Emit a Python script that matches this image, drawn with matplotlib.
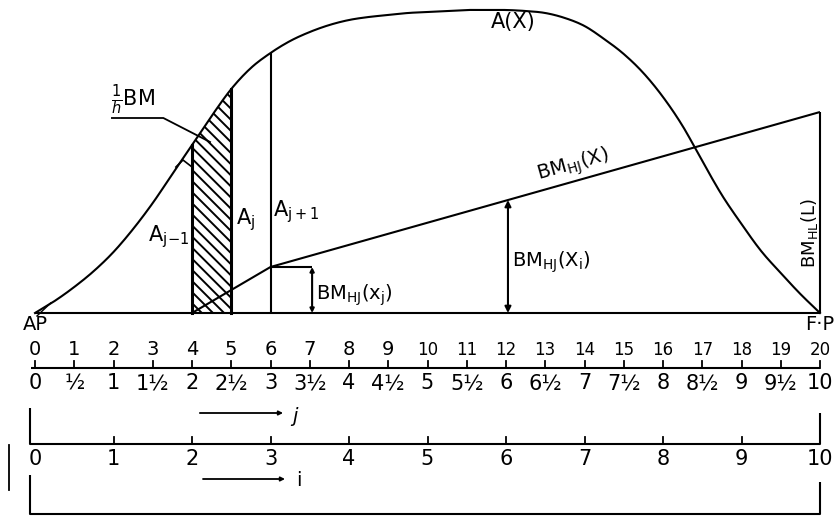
import numpy as np
import matplotlib
matplotlib.use("Agg")
import matplotlib.pyplot as plt

plt.rcParams['font.family'] = ['DejaVu Sans']
plt.rcParams['mathtext.fontset'] = 'dejavusans'
plt.rcParams['hatch.linewidth'] = 1.4

# ---------------- data ----------------
# sectional area curve A(x) at half stations 0 .. 20
stations = np.arange(0, 20.5, 0.5)
area_vals = [0, 12, 26, 42, 61, 84, 110, 139, 168, 197,
             224, 245, 260, 272, 281, 288, 293, 296, 298, 300,
             301, 302, 303, 303, 303, 302, 300, 295, 287, 274,
             259, 240, 216, 187, 152, 118, 89, 62, 40, 19, 0]
# BM_HJ(x) polyline
bm_x = [4, 6, 20]
bm_y = [0, 46, 201]
# hatched strip (stations j-1 .. j)
strip = (4.0, 5.0)
ordinate_j1 = 6.0
box_right = 7.06
arrow_station = 12.05

upper_labels = [str(k) for k in range(21)]
half_labels = ['0', '½', '1', '1½', '2', '2½', '3', '3½', '4', '4½', '5',
               '5½', '6', '6½', '7', '7½', '8', '8½', '9', '9½', '10']
i_labels = [str(k) for k in range(11)]

# ---------------- figure ----------------
X0, S = 35.0, 39.25
fig = plt.figure(figsize=(8.4, 5.21), dpi=100)
ax = fig.add_axes([0, 0, 1, 1])
ax.set_xlim(-X0 / S, (840 - X0) / S)
ax.set_ylim(-208, 313)
ax.axis('off')

LW = 1.5
k = dict(color='black', lw=LW, solid_capstyle='butt')

st = np.array(stations)
A = np.array(area_vals, dtype=float)


def smooth(x, y, n=12):
    """Catmull-Rom rendering of a polyline through the data points."""
    P = np.column_stack([x, y])
    P = np.vstack([2 * P[0] - P[1], P, 2 * P[-1] - P[-2]])
    out = []
    t = np.linspace(0, 1, n, endpoint=False)[:, None]
    for i in range(1, len(P) - 2):
        p0, p1, p2, p3 = P[i - 1], P[i], P[i + 1], P[i + 2]
        seg = 0.5 * ((2 * p1) + (-p0 + p2) * t + (2 * p0 - 5 * p1 + 4 * p2 - p3) * t ** 2
                     + (-p0 + 3 * p1 - 3 * p2 + p3) * t ** 3)
        out.append(seg)
    out.append(P[-2][None, :])
    out = np.vstack(out)
    return out[:, 0], out[:, 1]


sx, sy = smooth(st, A)

# baseline
ax.plot([0, 20], [0, 0], **k)
# A(x)
ax.plot(sx, sy, color='black', lw=LW)


def A_at(x):
    return float(np.interp(x, sx, sy))


# hatched strip
xx = np.linspace(strip[0], strip[1], 40)
ax.fill_between(xx, 0, np.interp(xx, sx, sy), facecolor='none',
                edgecolor='black', hatch='\\' * 3, lw=0)
ax.plot([strip[0], strip[0]], [0, A_at(strip[0])], color='black', lw=2.2)
ax.plot([strip[1], strip[1]], [0, A_at(strip[1])], color='black', lw=2.2)
# ordinate at station 6
ax.plot([ordinate_j1, ordinate_j1], [0, A_at(ordinate_j1)], **k)

# BM line
ax.plot(bm_x, bm_y, **k)
ax.plot([bm_x[-1], bm_x[-1]], [0, bm_y[-1]], **k)

# small box BM_HJ(x_j)
ax.plot([bm_x[1], box_right], [bm_y[1], bm_y[1]], **k)
ax.annotate('', xy=(box_right, bm_y[1]), xytext=(box_right, 0),
            arrowprops=dict(arrowstyle='<|-|>', color='black', lw=LW,
                            mutation_scale=6, shrinkA=0, shrinkB=0))

# arrow BM_HJ(X_i)
bm_at = float(np.interp(arrow_station, bm_x, bm_y))
ax.annotate('', xy=(arrow_station, bm_at), xytext=(arrow_station, 0),
            arrowprops=dict(arrowstyle='<|-|>', color='black', lw=LW,
                            mutation_scale=9, shrinkA=0, shrinkB=0))

# 1/h BM leader
ax.plot([1.96, 3.27, 4.46], [195, 195, 171], color='black', lw=1.3)
# small angle mark
ax.plot([3.59, 3.77, 4.0], [146, 153, 146], color='black', lw=1.2)
# AP leader
ax.plot([0.05, 0.4], [-3, 10], color='black', lw=1.0)

# ---------------- texts ----------------
ax.text(12.18, 291, 'A(X)', fontsize=15, ha='center', va='center')
ax.text(1.93, 196, r'$\frac{1}{h}$BM', fontsize=15, ha='left', va='bottom')
ax.text(6.06, 101, r'$\mathrm{A}_{\mathrm{j+1}}$', fontsize=15, ha='left', va='center')
ax.text(5.12, 93, r'$\mathrm{A}_{\mathrm{j}}$', fontsize=15, ha='left', va='center')
ax.text(3.93, 76, r'$\mathrm{A}_{\mathrm{j\!-\!1}}$', fontsize=15, ha='right', va='center')
ax.text(7.16, 18, r'$\mathrm{BM}_{\mathrm{HJ}}(\mathrm{x}_{\mathrm{j}})$', fontsize=14,
        ha='left', va='center')
ax.text(12.15, 51, r'$\mathrm{BM}_{\mathrm{HJ}}(\mathrm{X}_{\mathrm{i}})$', fontsize=14,
        ha='left', va='center')
ax.text(12.9, 125, r'$\mathrm{BM}_{\mathrm{HJ}}(\mathrm{X})$', fontsize=14,
        ha='left', va='bottom', rotation=15.7, rotation_mode='anchor')
ax.text(19.72, 80, r'$\mathrm{BM}_{\mathrm{HL}}(\mathrm{L})$', fontsize=13,
        ha='center', va='center', rotation=90)
ax.text(0.0, -11, 'AP', fontsize=14, ha='center', va='center')
ax.text(20.0, -11, 'F·P', fontsize=14, ha='center', va='center')

# ---------------- station scale ----------------
y_line = -55
ax.plot([-0.1, 20], [y_line, y_line], **k)
for i, lab in enumerate(upper_labels):
    ax.plot([i, i], [y_line, y_line + 7], color='black', lw=1.3)
    fs = 14 if i < 10 else 12
    ax.text(i, y_line + 9, lab, fontsize=fs, ha='center', va='bottom')
for i, lab in enumerate(half_labels):
    ax.text(i, y_line - 5, lab, fontsize=15, ha='center', va='top')

# j arrow
ax.annotate('', xy=(6.32, -100), xytext=(4.2, -100),
            arrowprops=dict(arrowstyle='-|>', color='black', lw=1.3,
                            mutation_scale=6, shrinkA=0, shrinkB=0))
ax.text(6.62, -104, 'j', fontsize=14, ha='center', va='center', style='italic')

# i scale
y_i = -131
ax.plot([-0.13, -0.13, 20, 20], [-95, y_i, y_i, -100], **k)
for i, lab in enumerate(i_labels):
    if 0 < i < 10:
        ax.plot([2 * i, 2 * i], [y_i, y_i + 7], color='black', lw=1.3)
    ax.text(2 * i, y_i - 5, lab, fontsize=15, ha='center', va='top')

# i arrow
ax.annotate('', xy=(6.37, -166), xytext=(4.28, -166),
            arrowprops=dict(arrowstyle='-|>', color='black', lw=1.3,
                            mutation_scale=6, shrinkA=0, shrinkB=0))
ax.text(6.72, -167, 'i', fontsize=14, ha='center', va='center')

# bottom bracket
ax.plot([-0.13, -0.13, 20, 20], [-162, -201, -201, -169], **k)
ax.plot([-0.66, -0.66], [-132, -177], color='black', lw=1.3)

fig.savefig('out.png', dpi=100)
